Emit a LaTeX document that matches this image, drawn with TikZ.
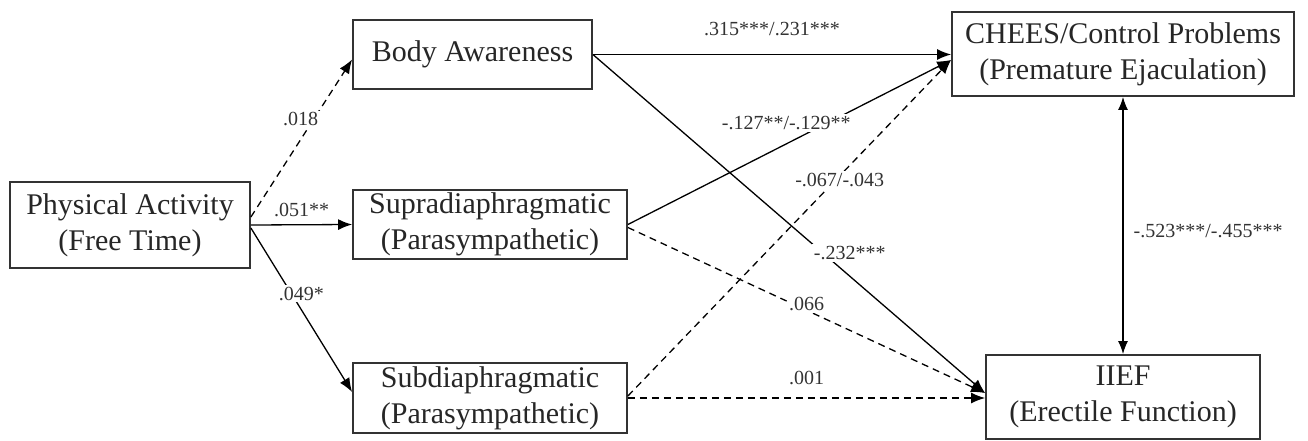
\documentclass[tikz,border=0pt]{standalone}
\usepackage{fontspec}
\setmainfont{Liberation Serif}
\usepackage{tikz}
\usetikzlibrary{arrows.meta}
\tikzset{
  varnode/.style={
    rectangle, draw=black!80, line width=1.8pt,
    text=black!85, align=center,
    font=\fontsize{30}{36}\selectfont,
    inner sep=0pt
  },
  coefnode/.style={
    font=\fontsize{20}{22}\selectfont, text=black!80,
    fill=white, inner sep=2pt
  },
  patharrow/.style={-{Latex[length=14pt,width=11pt]}, line width=1.3pt, black},
  dasharrow/.style={patharrow, dash pattern=on 7pt off 5pt},
  biarrow/.style={{Latex[length=13pt,width=10pt]}-{Latex[length=13pt,width=10pt]}, line width=1.3pt, black}
}

\begin{document}
\begin{tikzpicture}[x=1pt, y=-1pt]
    \useasboundingbox (0,0) rectangle (1308,441);
    \node[varnode, minimum width=240pt, minimum height=86pt] (pa) at (130,225) {Physical Activity\\(Free Time)};
    \node[varnode, minimum width=239pt, minimum height=69pt] (ba) at (472.5,54.5) {Body Awareness};
    \node[varnode, minimum width=274pt, minimum height=69pt] (sup) at (490,224.5) {Supradiaphragmatic\\(Parasympathetic)};
    \node[varnode, minimum width=274pt, minimum height=70pt] (sub) at (490,398) {Subdiaphragmatic\\(Parasympathetic)};
    \node[varnode, minimum width=342pt, minimum height=84pt] (ce) at (1123,54) {CHEES/Control Problems\\(Premature Ejaculation)};
    \node[varnode, minimum width=274pt, minimum height=84pt] (ie) at (1123,397) {IIEF\\(Erectile Function)};
    \draw[dasharrow] ([yshift=8pt]pa.east) -- node[coefnode, pos=0.62, xshift=-13pt] {.018} ([yshift=-5pt]ba.west);
    \draw[patharrow] (pa.east) -- node[coefnode, midway, yshift=15pt] {.051**} (sup.west);
    \draw[patharrow] ([yshift=-3pt]pa.east) -- node[coefnode, pos=0.4, xshift=10pt] {.049*} ([yshift=6pt]sub.west);
    \draw[patharrow] (ba.east) -- node[coefnode, midway, yshift=25pt] {.315***/.231***} (ba.east -| ce.west);
    \draw[patharrow] (ba.east) -- node[coefnode, pos=0.655, yshift=23pt] {-.232***} ([yshift=4pt]ie.west);
    \draw[patharrow] (sup.east) -- node[coefnode, pos=0.49, yshift=21pt] {-.127**/-.129**} ([yshift=-6pt]ce.west);
    \draw[dasharrow] ([yshift=-3pt]sup.east) -- node[coefnode, pos=0.5, yshift=6pt] {.066} ([yshift=4pt]ie.west);
    \draw[dasharrow] ([yshift=2pt]sub.east) -- node[coefnode, pos=0.643, xshift=4pt] {-.067/-.043} ([yshift=-6pt]ce.west);
    \draw[dasharrow] (sub.east) -- node[coefnode, midway, yshift=20pt] {.001} (sub.east -| ie.west);
    \draw[biarrow] (ce.south) -- node[coefnode, midway, anchor=west, xshift=8pt, yshift=-6pt] {-.523***/-.455***} (ie.north);
  \end{tikzpicture}
\end{document}
